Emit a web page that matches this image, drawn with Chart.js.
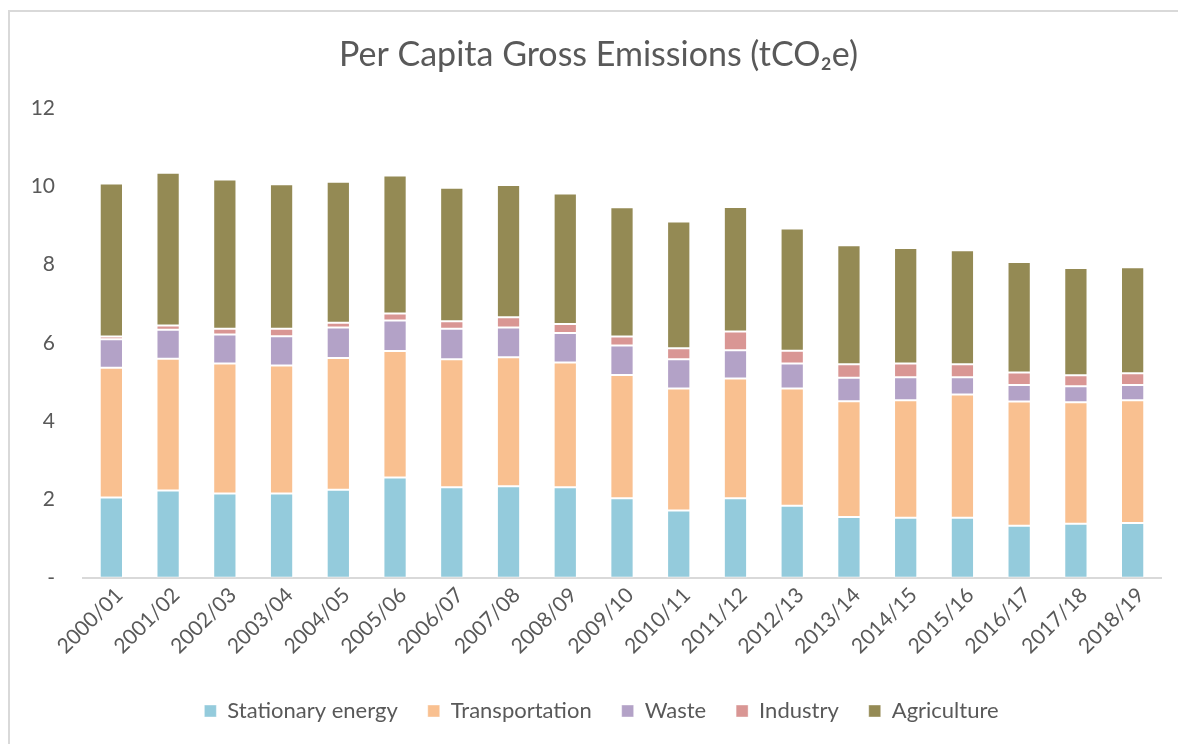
<!DOCTYPE html>
<html>
<head>
<meta charset="utf-8">
<script src="https://cdn.jsdelivr.net/npm/chart.js@4.4.0/dist/chart.umd.min.js"></script>
<style>
  html, body { margin: 0; padding: 0; background: #ffffff; }
  #wrap { width: 1178px; height: 744px; position: relative; }
</style>
</head>
<body>
<div id="wrap"><canvas id="c" width="1178" height="744"></canvas></div>
<script>
const categories = ["2000/01","2001/02","2002/03","2003/04","2004/05","2005/06","2006/07","2007/08","2008/09","2009/10","2010/11","2011/12","2012/13","2013/14","2014/15","2015/16","2016/17","2017/18","2018/19"];
const stationaryEnergy = [2.05,2.23,2.15,2.15,2.25,2.56,2.31,2.34,2.31,2.03,1.72,2.03,1.84,1.55,1.53,1.53,1.33,1.38,1.40];
const transportation   = [3.31,3.36,3.32,3.27,3.36,3.23,3.27,3.29,3.19,3.15,3.11,3.06,2.99,2.96,3.00,3.15,3.17,3.10,3.13];
const waste            = [0.73,0.74,0.74,0.75,0.78,0.78,0.78,0.76,0.75,0.75,0.75,0.72,0.64,0.60,0.59,0.44,0.42,0.41,0.39];
const industry         = [0.07,0.11,0.15,0.19,0.12,0.18,0.19,0.26,0.23,0.23,0.28,0.48,0.33,0.34,0.35,0.33,0.32,0.28,0.30];
const agriculture      = [3.91,3.90,3.81,3.69,3.60,3.52,3.41,3.38,3.33,3.30,3.24,3.18,3.12,3.04,2.95,2.91,2.82,2.74,2.71];
const seriesNames = ["Stationary energy","Transportation","Waste","Industry","Agriculture"];
const yTicks = [0,2,4,6,8,10,12];
const titleText = "Per Capita Gross Emissions (tCO\u2082e)";

const colors = ["#94CBDC","#F9C090","#B3A2C7","#D99694","#948A54"];
const FONT = "Lato, 'Liberation Sans', sans-serif";
const TXT = "#595959";

const seriesData = [stationaryEnergy, transportation, waste, industry, agriculture];

const frame = {
  id: 'frame',
  afterLayout(chart) {
    // shift the legend and title boxes slightly right, as in the original
    if (chart.legend) { chart.legend.left += 15; chart.legend.right += 15; }
    if (chart.titleBlock) { chart.titleBlock.left += 12; chart.titleBlock.right += 12; }
  },
  beforeDraw(chart) {
    const ctx = chart.ctx;
    ctx.save();
    ctx.fillStyle = '#ffffff';
    ctx.fillRect(0, 0, chart.width, chart.height);
    ctx.fillStyle = '#d9d9d9';
    ctx.fillRect(8, 10, chart.width - 8, 2);
    ctx.fillRect(8, 10, 2, chart.height - 10);
    ctx.restore();
  }
};

new Chart(document.getElementById('c'), {
  type: 'bar',
  data: {
    labels: categories,
    datasets: seriesData.map((d, i) => ({
      label: seriesNames[i],
      data: d,
      backgroundColor: colors[i],
      borderColor: 'rgba(255,255,255,0.4)',
      borderWidth: 1,
      borderSkipped: false,
      barPercentage: 0.41,
      categoryPercentage: 1.0
    }))
  },
  options: {
    responsive: false,
    animation: false,
    devicePixelRatio: 1,
    layout: { padding: { left: 12, right: 17, top: 10, bottom: 12 } },
    plugins: {
      title: {
        display: true,
        text: titleText,
        color: TXT,
        font: { family: FONT, size: 34, weight: 'normal' },
        padding: { top: 25, bottom: 32 }
      },
      legend: {
        position: 'bottom',
        labels: {
          color: TXT,
          font: { family: FONT, size: 22 },
          boxWidth: 12,
          boxHeight: 12,
          padding: 30
        }
      },
      tooltip: { enabled: false }
    },
    scales: {
      x: {
        stacked: true,
        grid: { display: false, drawTicks: false },
        border: { display: true, color: '#d9d9d9', width: 2 },
        afterFit(scale) { scale.height = scale.height + 6; },
        ticks: {
          color: TXT,
          font: { family: FONT, size: 21 },
          maxRotation: 45,
          minRotation: 45,
          padding: 5,
          labelOffset: 8,
          autoSkip: false
        }
      },
      y: {
        stacked: true,
        min: 0,
        max: 12,
        afterBuildTicks(scale) { scale.ticks = yTicks.map(v => ({ value: v })); },
        afterFit(scale) { scale.width = 71; },
        grid: { display: false, drawTicks: false },
        border: { display: false },
        ticks: {
          color: TXT,
          font: { family: FONT, size: 21 },
          padding: 28,
          callback: (v) => v === 0 ? '-' : String(v)
        }
      }
    }
  },
  plugins: [frame]
});
</script>
</body>
</html>
